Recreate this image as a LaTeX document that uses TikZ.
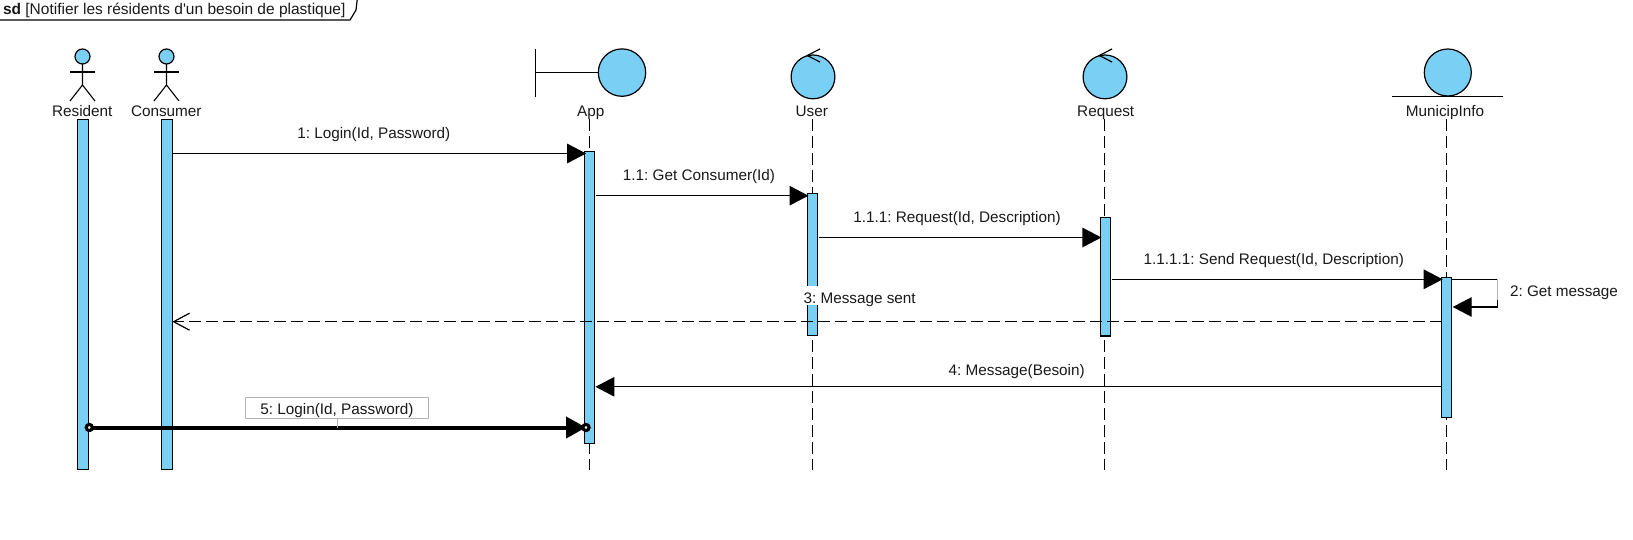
\documentclass[tikz,border=0pt]{standalone}
\usepackage{fontspec}
\setmainfont[Ligatures=TeXOff]{Liberation Sans}
\usetikzlibrary{arrows.meta,calc}
\definecolor{umlblue}{RGB}{122,207,245}
\tikzset{
  x=1pt,y=-1pt,
  txt/.style={inner sep=0pt,outer sep=0pt,anchor=base,font=\fontsize{15.3}{18}\selectfont\frenchspacing,text=black!90},
  ball/.style={circle,draw=black,fill=umlblue,line width=1.2pt,inner sep=0pt,outer sep=0pt},
  actorline/.style={draw=black,line width=1.1pt},
  sym/.style={draw=black,line width=1.2pt},
  life/.style={draw=black,line width=1.1pt,dash pattern=on 12pt off 5pt},
  bar/.style={rectangle,draw=black,fill=umlblue,line width=1.1pt,inner sep=0pt,outer sep=0pt,anchor=north},
  msg/.style={draw=black,line width=1.2pt,-{Triangle[length=19pt,width=19.5pt]}},
  rmsg/.style={draw=black,line width=1.2pt,dash pattern=on 12pt off 5pt,-{Straight Barb[length=16pt,width=17pt]}},
  heavy/.style={draw=black,line width=4pt,-{Triangle[length=20pt,width=21pt]}},
  grip/.style={circle,draw=black,fill=white,line width=3pt,minimum size=6pt,inner sep=0pt},
}
\begin{document}
\begin{tikzpicture}
\useasboundingbox (0,0) rectangle (1633,540);
% frame
\draw[black,line width=1.2pt] (-1,20) -- (350,20) -- (356,10) -- (357.3,-1);
\node[txt,anchor=base west,font=\fontsize{15.5}{18}\selectfont\frenchspacing] (frametitle) at (3,14.3) {\textbf{sd} [Notifier les résidents d'un besoin de plastique]};
% lifelines
\coordinate (append) at (589.3,469.5);
\coordinate (userend) at (812.3,469.5);
\coordinate (reqend) at (1104.6,469.5);
\coordinate (munend) at (1446.7,469.5);
\coordinate (apptop) at (589.3,119);
\coordinate (usertop) at (812.3,119);
\coordinate (reqtop) at (1104.6,119);
\coordinate (muntop) at (1446.7,119);
\draw[life] (apptop) -- (append);
\draw[life] (usertop) -- (userend);
\draw[life] (reqtop) -- (reqend);
\draw[life] (muntop) -- (munend);
% actors
\node[ball,minimum size=15pt] (reshead) at (82.5,56.5) {};
\draw[actorline] (reshead.south) -- ++(0,21) -- ++(-12.5,16) ++(12.5,-16) -- ++(12.5,16);
\draw[actorline] (70,72) -- (95,72);
\node[txt] (reslabel) at (82.3,116.6) {Resident};
\node[ball,minimum size=15pt] (conhead) at (166.5,56.5) {};
\draw[actorline] (conhead.south) -- ++(0,21) -- ++(-12.5,16) ++(12.5,-16) -- ++(12.5,16);
\draw[actorline] (154,72) -- (179,72);
\node[txt] (conlabel) at (166.3,116.6) {Consumer};
% boundary
\node[ball,minimum size=47.4pt] (appball) at (622,72.6) {};
\draw[sym] (535.3,49) -- (535.3,96.7);
\draw[sym] (535.3,72.6) -- (appball.west);
\node[txt] (applabel) at (590.7,116.6) {App};
% controls
\node[ball,minimum size=43.8pt] (userball) at (813,76.9) {};
\draw[sym] (820,49) -- (807.3,55.5) -- (820,62);
\node[txt] (userlabel) at (811.7,116.6) {User};
\node[ball,minimum size=43.8pt] (reqball) at (1105,76.9) {};
\draw[sym] (1112,49) -- (1099.3,55.5) -- (1112,62);
\node[txt] (reqlabel) at (1105.7,116.6) {Request};
% entity
\node[ball,minimum size=47pt] (munball) at (1447.8,72.5) {};
\draw[sym] (1391.9,96.3) -- (1503,96.3);
\node[txt] (munlabel) at (1445,116.6) {MunicipInfo};
% bars
\node[bar,minimum width=10.6pt,minimum height=350pt] (resbar) at (83,119.3) {};
\node[bar,minimum width=10.6pt,minimum height=350pt] (conbar) at (167,119.3) {};
\node[bar,minimum width=9.8pt,minimum height=292pt] (appbar) at (589.5,151.3) {};
\node[bar,minimum width=9.8pt,minimum height=142pt] (userbar) at (812.4,193.3) {};
\node[bar,minimum width=10pt,minimum height=118.7pt] (reqbar) at (1105.4,217.3) {};
\node[bar,minimum width=10pt,minimum height=140.3pt] (munbar) at (1446.7,277.3) {};
% message 1
\draw[msg] (conbar.east |- 0,153.5) -- ($(appbar.west |- 0,153.5)+(1.5,0)$);
\node[txt] (m1) at (373.8,138.6) {1: Login(Id, Password)};
% message 1.1
\draw[msg] ($(appbar.east |- 0,195.7)+(2,0)$) -- ($(userbar.west |- 0,195.7)+(1,0)$);
\node[txt] (m11) at (699,180.6) {1.1: Get Consumer(Id)};
% message 1.1.1
\draw[msg] ($(userbar.east |- 0,237.5)+(2,0)$) -- ($(reqbar.west |- 0,237.5)+(1,0)$);
\node[txt] (m111) at (957,222.6) {1.1.1: Request(Id, Description)};
% message 1.1.1.1
\draw[msg] ($(reqbar.east |- 0,279.3)+(2,0)$) -- ($(munbar.west |- 0,279.3)+(1,0)$);
\node[txt] (m1111) at (1273.8,264.6) {1.1.1.1: Send Request(Id, Description)};
% self message 2
\coordinate (selfa) at (1497.3,279.3);
\coordinate (selfb) at (1497.3,307);
\draw[black,line width=1.2pt] (munbar.east |- selfa) -- (selfa);
\draw[black!30,line width=1pt] (selfa) -- (1497.3,300);
\draw[msg] (1497.3,300) -- (selfb) -- ($(munbar.east |- selfb)+(1,0)$);
\node[txt,anchor=base west] (m2) at (1510,296.4) {2: Get message};
% message 3
\draw[rmsg] (munbar.west |- 0,321.7) -- (conbar.east |- 0,321.7);
\node[txt,fill=white,anchor=base west,text height=17.3pt,text depth=1.4pt] (m3) at (803.5,303.6) {3: Message sent};
% message 4
\draw[msg] (munbar.west |- 0,386.8) -- ($(appbar.east |- 0,386.8)+(1,0)$);
\node[txt] (m4) at (1016.7,375.9) {4: Message(Besoin)};
% message 5
\node[grip] (gripa) at (89.3,427.5) {};
\node[grip] (gripb) at (586,427.5) {};
\draw[heavy] (gripa.center) -- (gripb.center);
\node[grip] at (gripa) {};
\node[grip] at (gripb) {};
\node[txt,draw=black!30,line width=1pt,fill=white,minimum width=183pt,text height=17pt,text depth=4.4pt] (m5) at (337,414.5) {5: Login(Id, Password)};
\draw[black!30,line width=0.8pt] (m5.south) -- (m5.south |- gripa);
\end{tikzpicture}
\end{document}
